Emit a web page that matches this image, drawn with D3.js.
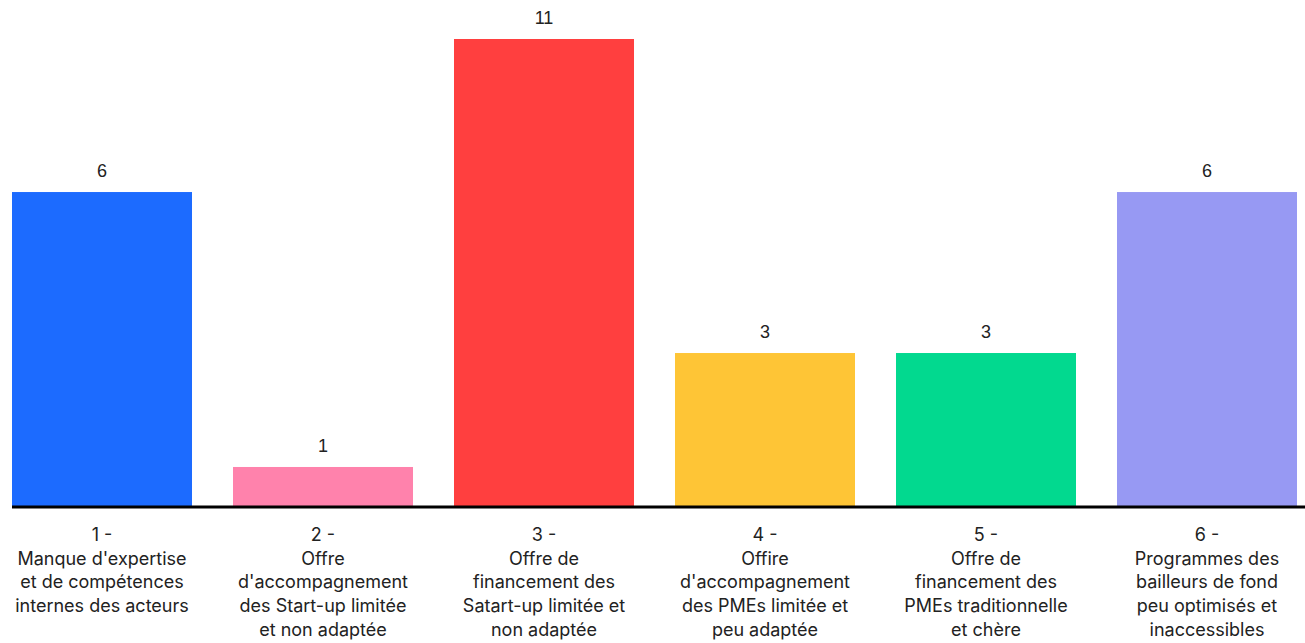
<!DOCTYPE html>
<html>
<head>
<meta charset="utf-8">
<script src="https://cdn.jsdelivr.net/npm/d3@7"></script>
<style>
  html, body { margin: 0; padding: 0; background: #fff; }
  svg { display: block; }
</style>
</head>
<body>
<svg id="chart" width="1305" height="643"></svg>
<script>
const categories = ["1", "2", "3", "4", "5", "6"];
const labels = [
  ["1 -", "Manque d'expertise", "et de compétences", "internes des acteurs"],
  ["2 -", "Offre", "d'accompagnement", "des Start-up limitée", "et non adaptée"],
  ["3 -", "Offre de", "financement des", "Satart-up limitée et", "non adaptée"],
  ["4 -", "Offire", "d'accompagnement", "des PMEs limitée et", "peu adaptée"],
  ["5 -", "Offre de", "financement des", "PMEs traditionnelle", "et chère"],
  ["6 -", "Programmes des", "bailleurs de fond", "peu optimisés et", "inaccessibles"]
];
const values = [6, 1, 11, 3, 3, 6];
const colors = ["#1c6bff", "#ff82ac", "#ff3f3f", "#fec536", "#02d98f", "#9799f3"];

const svg = d3.select("#chart");
const baseY = 507, topY = 39;
const H = baseY - topY;

const x = d3.scaleBand().domain(categories).range([12, 1297]).paddingInner(0.1855).paddingOuter(0);
// the source chart's bar heights are not proportional; reproduce with a piecewise scale
const y = d3.scaleLinear()
  .domain([0, 1, 3, 6, 11])
  .range([baseY, baseY - H * 0.0855, baseY - H * 0.329, baseY - H * 0.673, topY]);

svg.selectAll("rect.bar").data(values).join("rect")
  .attr("class", "bar")
  .attr("x", (d, i) => x(categories[i]))
  .attr("y", d => y(d))
  .attr("width", x.bandwidth())
  .attr("height", d => baseY - y(d))
  .attr("fill", (d, i) => colors[i]);

svg.selectAll("text.val").data(values).join("text")
  .attr("class", "val")
  .attr("x", (d, i) => x(categories[i]) + x.bandwidth() / 2)
  .attr("y", d => y(d) - 15)
  .attr("text-anchor", "middle")
  .attr("font-family", "Liberation Sans, Arial, sans-serif")
  .attr("font-size", 18)
  .attr("fill", "#222")
  .text(d => d);

// baseline axis
const xAxis = d3.axisBottom(x).tickSize(0).tickFormat("");
const ax = svg.append("g").attr("transform", `translate(0,${baseY})`).call(xAxis);
ax.select(".domain").attr("stroke", "#000").attr("stroke-width", 3).attr("d", `M12,0H1305`);

const lab = svg.selectAll("text.cat").data(labels).join("text")
  .attr("class", "cat")
  .attr("text-anchor", "middle")
  .attr("font-family", "Inter, sans-serif")
  .attr("font-size", 18)
  .attr("fill", "#222");
lab.each(function(lines, i) {
  const cx = x(categories[i]) + x.bandwidth() / 2;
  d3.select(this).selectAll("tspan").data(lines).join("tspan")
    .attr("x", cx)
    .attr("y", (l, j) => 541 + j * 23.7)
    .text(l => l);
});
</script>
</body>
</html>
